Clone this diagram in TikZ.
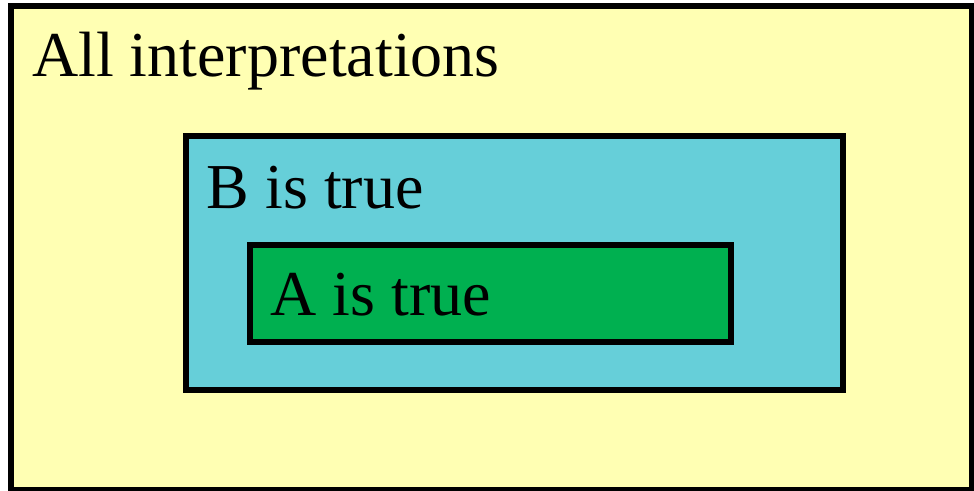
\documentclass[tikz,border=0pt]{standalone}
\usepackage{fontspec}
\setmainfont{Liberation Serif}
\definecolor{bgyellow}{RGB}{255,255,179}
\definecolor{bblue}{RGB}{102,207,217}
\definecolor{agreen}{RGB}{0,176,80}
\tikzset{
  setbox/.style={draw=black, line width=6pt},
  lbl/.style={anchor=base west, inner sep=0pt, font=\fontsize{64}{76}\selectfont}
}
\begin{document}
\begin{tikzpicture}[x=1pt,y=-1pt]
\useasboundingbox (0,0) rectangle (974,490);
\fill[white] (0,0) rectangle (974,490);
\draw[setbox, fill=bgyellow] (11,6) rectangle (972,490);
\draw[setbox, fill=bblue] (185.7,136.3) rectangle (843,389.5);
\draw[setbox, fill=agreen] (250.3,245) rectangle (731,342.3);
\node[lbl] (all) at (32,76) {All interpretations};
\node[lbl] (b) at (206.5,208.3) {B is true};
\node[lbl] (a) at (270.5,315) {A is true};
\end{tikzpicture}
\end{document}
